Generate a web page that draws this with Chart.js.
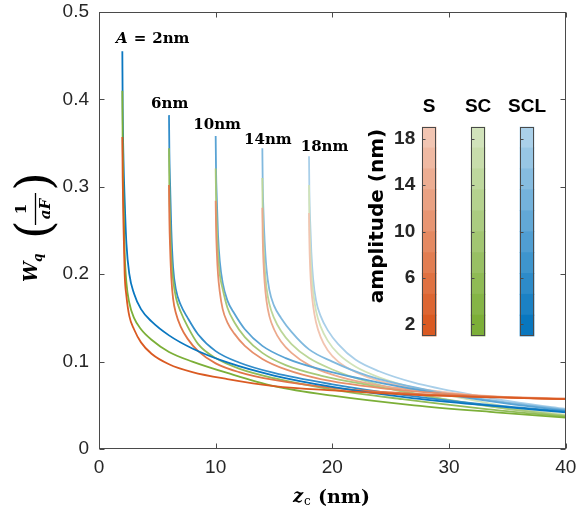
<!DOCTYPE html>
<html><head><meta charset="utf-8">
<script src="https://cdn.jsdelivr.net/npm/chart.js@4.4.0/dist/chart.umd.min.js"></script>
<style>
html,body{margin:0;padding:0;background:#fff;}
#wrap{position:relative;width:576px;height:512px;overflow:hidden;}
#wrap canvas{position:absolute;left:0;top:0;}
</style></head><body>
<div id="wrap"><canvas id="main" width="576" height="512"></canvas><canvas id="cbar" width="576" height="512"></canvas></div>
<script>
// ---------- data ----------
const amplitudes = [2, 6, 10, 14, 18];
const seriesNames = ['S', 'SC', 'SCL'];
const xTicks = [0, 10, 20, 30, 40];
const yTicks = [0, 0.1, 0.2, 0.3, 0.4, 0.5];
const cbTicks = [2, 6, 10, 14, 18];
const cbRange = [1, 19];
const cbLevels = 10;
const curveLabels = ['2nm', '6nm', '10nm', '14nm', '18nm'];

const zA2  = [2, 2.03, 2.1, 2.2, 2.35, 2.6, 3, 3.6, 4.5, 6, 8, 11, 15, 20, 27, 34, 40];
const S_A2   = [0.357, 0.31, 0.255, 0.2, 0.175, 0.152, 0.137, 0.122, 0.109, 0.097, 0.088, 0.080, 0.072, 0.067, 0.062, 0.059, 0.057];
const SC_A2  = [0.41, 0.35, 0.285, 0.225, 0.19, 0.167, 0.15, 0.137, 0.125, 0.111, 0.1, 0.087, 0.072, 0.061, 0.05, 0.042, 0.036];
const SCL_A2 = [0.455, 0.39, 0.33, 0.285, 0.235, 0.2, 0.178, 0.16, 0.146, 0.13, 0.115, 0.099, 0.084, 0.071, 0.058, 0.049, 0.042];

const zA6  = [6, 6.03, 6.1, 6.2, 6.35, 6.6, 7, 7.6, 8.5, 10, 12, 15, 20, 26, 33, 40];
const S_A6   = [0.302, 0.265, 0.228, 0.196, 0.172, 0.155, 0.14, 0.126, 0.112, 0.098, 0.088, 0.079, 0.070, 0.064, 0.060, 0.057];
const SC_A6  = [0.344, 0.3, 0.258, 0.22, 0.194, 0.173, 0.157, 0.14, 0.12, 0.104, 0.092, 0.081, 0.068, 0.057, 0.046, 0.037];
const SCL_A6 = [0.382, 0.34, 0.3, 0.25, 0.208, 0.182, 0.165, 0.15, 0.131, 0.112, 0.099, 0.087, 0.074, 0.062, 0.051, 0.043];

const zA10 = [10, 10.03, 10.1, 10.2, 10.35, 10.6, 11, 11.6, 12.5, 14, 16, 19, 24, 30, 35, 40];
const S_A10   = [0.284, 0.255, 0.225, 0.2, 0.18, 0.16, 0.145, 0.132, 0.118, 0.103, 0.091, 0.080, 0.070, 0.063, 0.059, 0.057];
const SC_A10  = [0.321, 0.29, 0.255, 0.225, 0.2, 0.183, 0.162, 0.145, 0.128, 0.11, 0.096, 0.084, 0.071, 0.056, 0.046, 0.038];
const SCL_A10 = [0.358, 0.32, 0.285, 0.245, 0.215, 0.19, 0.17, 0.155, 0.137, 0.118, 0.104, 0.091, 0.076, 0.062, 0.052, 0.044];

const zA14 = [14, 14.03, 14.1, 14.2, 14.35, 14.6, 15, 15.6, 16.5, 18, 20, 23, 28, 34, 40];
const S_A14   = [0.276, 0.243, 0.213, 0.19, 0.17, 0.152, 0.137, 0.123, 0.11, 0.096, 0.085, 0.075, 0.066, 0.060, 0.058];
const SC_A14  = [0.31, 0.27, 0.236, 0.208, 0.185, 0.166, 0.15, 0.135, 0.12, 0.104, 0.091, 0.077, 0.061, 0.048, 0.038];
const SCL_A14 = [0.344, 0.305, 0.27, 0.237, 0.207, 0.182, 0.164, 0.15, 0.134, 0.114, 0.1, 0.084, 0.068, 0.055, 0.045];

const zA18 = [18, 18.03, 18.1, 18.2, 18.35, 18.6, 19, 19.6, 20.5, 22, 24, 27, 32, 36, 40];
const S_A18   = [0.270, 0.238, 0.206, 0.183, 0.164, 0.145, 0.128, 0.113, 0.1, 0.088, 0.078, 0.07, 0.062, 0.059, 0.057];
const SC_A18  = [0.302, 0.265, 0.232, 0.203, 0.18, 0.158, 0.14, 0.124, 0.109, 0.094, 0.082, 0.07, 0.056, 0.046, 0.039];
const SCL_A18 = [0.335, 0.295, 0.26, 0.225, 0.195, 0.17, 0.152, 0.136, 0.12, 0.102, 0.089, 0.076, 0.062, 0.053, 0.046];

// ---------- assembly ----------
const zByA = {2: zA2, 6: zA6, 10: zA10, 14: zA14, 18: zA18};
const valsBy = {
  S:   {2: S_A2, 6: S_A6, 10: S_A10, 14: S_A14, 18: S_A18},
  SC:  {2: SC_A2, 6: SC_A6, 10: SC_A10, 14: SC_A14, 18: SC_A18},
  SCL: {2: SCL_A2, 6: SCL_A6, 10: SCL_A10, 14: SCL_A14, 18: SCL_A18}
};
const baseRGB = {S: [217, 83, 25], SC: [119, 172, 48], SCL: [0, 114, 189]};
const LIGHT = 0.7;
function shade(s, A) {
  const m = LIGHT * (A - cbRange[0]) / (cbRange[1] - cbRange[0]);
  const c = baseRGB[s].map(v => Math.round(v + (255 - v) * m));
  return `rgb(${c[0]},${c[1]},${c[2]})`;
}

const datasets = [];
amplitudes.forEach(A => {
  seriesNames.forEach(s => {
    const zs = zByA[A], ws = valsBy[s][A];
    datasets.push({
      label: s + ' A=' + A,
      data: zs.map((z, i) => ({x: z, y: ws[i]})),
      borderColor: shade(s, A),
      borderWidth: 1.8,
      pointRadius: 0,
      fill: false,
      cubicInterpolationMode: 'monotone'
    });
  });
});

// label anchors in data units (left / baseline)
const labelAnchors = [[1.46, 0.464], [4.46, 0.390], [8.08, 0.3656], [12.43, 0.3495], [17.29, 0.3415]];

function noPad(s) { s.paddingLeft = 0; s.paddingRight = 0; s.paddingTop = 0; s.paddingBottom = 0; }

const boxPlugin = {
  id: 'box',
  afterDatasetsDraw(chart) {
    const {ctx, chartArea: a, scales: {x, y}} = chart;
    ctx.save();
    ctx.strokeStyle = '#4a4a4a';
    ctx.lineWidth = 1;
    const l = Math.round(a.left) + 0.5, r = Math.round(a.right) - 0.5, t = Math.round(a.top) + 0.5, b = Math.round(a.bottom) - 0.5;
    ctx.strokeRect(l, t, r - l, b - t);
    const L = 5;
    ctx.beginPath();
    xTicks.forEach(v => {
      const px = Math.round(x.getPixelForValue(v)) + 0.5;
      ctx.moveTo(px, b); ctx.lineTo(px, b - L);
      ctx.moveTo(px, t); ctx.lineTo(px, t + L);
    });
    yTicks.forEach(v => {
      const py = Math.round(y.getPixelForValue(v)) + 0.5;
      ctx.moveTo(l, py); ctx.lineTo(l + L, py);
      ctx.moveTo(r, py); ctx.lineTo(r - L, py);
    });
    ctx.stroke();

    // curve annotations
    ctx.fillStyle = '#000';
    ctx.textBaseline = 'alphabetic';
    labelAnchors.forEach((p, i) => {
      let px = x.getPixelForValue(p[0]);
      const py = y.getPixelForValue(p[1]);
      if (i === 0) {
        ctx.font = 'bold italic 15px "DejaVu Serif"';
        ctx.fillText('A', px, py);
        px += ctx.measureText('A').width + 6;
        ctx.font = 'bold 15px "DejaVu Serif"';
        ctx.fillText('=', px, py);
        px += ctx.measureText('=').width + 6;
      }
      ctx.font = 'bold 15px "DejaVu Serif"';
      ctx.fillText(curveLabels[i], px, py);
    });

    // x-axis title
    ctx.font = 'bold italic 18px "DejaVu Serif"';
    ctx.fillText('z', 293, 501.5);
    ctx.font = '12px "DejaVu Serif"';
    ctx.fillText('c', 304, 505);
    ctx.font = 'bold 19px "DejaVu Serif"';
    ctx.fillText('(nm)', 318, 503);

    // y-axis title (rotated)
    ctx.translate(35, 240);
    ctx.rotate(-Math.PI / 2);
    ctx.font = 'bold italic 18px "DejaVu Serif"';
    ctx.fillText('W', -42, 1.5);
    ctx.font = 'bold italic 12px "DejaVu Serif"';
    ctx.fillText('q', -22, 7);
    function paren(ch, left) {
      ctx.font = '48px "DejaVu Serif"';
      const m = ctx.measureText(ch);
      const base = (m.actualBoundingBoxAscent - m.actualBoundingBoxDescent) / 2;
      ctx.fillText(ch, left, base);
    }
    paren('(', 1);
    paren(')', 49);
    ctx.font = 'bold 15px "DejaVu Serif"';
    ctx.textAlign = 'center';
    ctx.fillText('1', 31, -9);
    ctx.font = 'bold italic 15px "DejaVu Serif"';
    ctx.fillText('aF', 31, 15);
    ctx.beginPath();
    ctx.lineWidth = 1.3;
    ctx.strokeStyle = '#000';
    ctx.moveTo(15, 0.5); ctx.lineTo(47, 0.5);
    ctx.stroke();
    ctx.restore();
  }
};

new Chart(document.getElementById('main'), {
  type: 'line',
  data: {datasets},
  options: {
    responsive: false,
    animation: false,
    layout: {padding: {left: 0, right: 10.3, top: 12, bottom: 0}},
    plugins: {legend: {display: false}, tooltip: {enabled: false}},
    scales: {
      x: {
        type: 'linear', min: 0, max: 40,
        afterBuildTicks: s => { s.ticks = xTicks.map(v => ({value: v})); },
        afterFit: s => { s.height = 63; noPad(s); },
        grid: {display: false, drawTicks: false},
        border: {display: false},
        ticks: {color: '#262626', font: {family: '"Liberation Sans", Arial', size: 19}, padding: 7, maxRotation: 0}
      },
      y: {
        type: 'linear', min: 0, max: 0.5,
        afterBuildTicks: s => { s.ticks = yTicks.map(v => ({value: v})); },
        afterFit: s => { s.width = 99; noPad(s); },
        grid: {display: false, drawTicks: false},
        border: {display: false},
        ticks: {color: '#262626', font: {family: '"Liberation Sans", Arial', size: 19}, padding: 10,
          callback: v => (v === 0 ? '0' : v.toFixed(1))}
      }
    }
  },
  plugins: [boxPlugin]
});

// ---------- colour bars ----------
const cbStep = (cbRange[1] - cbRange[0]) / cbLevels;
const cbDatasets = [];
for (let k = 0; k < cbLevels; k++) {
  const lo = cbRange[0] + k * cbStep, hi = lo + cbStep;
  const mid = (lo + hi) / 2;
  cbDatasets.push({
    data: seriesNames.map(() => [lo, hi]),
    backgroundColor: seriesNames.map(s => shade(s, mid)),
    borderWidth: 0,
    grouped: false,
    barThickness: 14,
    clip: false
  });
}
const cbFrame = {
  id: 'cbFrame',
  afterDatasetsDraw(chart) {
    const {ctx, scales: {x, y}} = chart;
    ctx.save();
    ctx.strokeStyle = '#4a4a4a';
    ctx.lineWidth = 1;
    const t = y.getPixelForValue(cbRange[1]), b = y.getPixelForValue(cbRange[0]);
    seriesNames.forEach((s, i) => {
      const cx = x.getPixelForValue(i);
      const l = Math.round(cx - 7) + 0.5, r = Math.round(cx + 7) - 0.5;
      ctx.strokeRect(l, Math.round(t) + 0.5, r - l, Math.round(b - t) - 1);
      ctx.beginPath();
      cbTicks.forEach(v => {
        const py = Math.round(y.getPixelForValue(v)) + 0.5;
        ctx.moveTo(l, py); ctx.lineTo(l + 3, py);
      });
      ctx.stroke();
    });
    // colour bar axis title
    ctx.fillStyle = '#000';
    ctx.font = 'bold 20px "DejaVu Sans"';
    ctx.textAlign = 'center';
    ctx.textBaseline = 'middle';
    ctx.translate(378, 216);
    ctx.rotate(-Math.PI / 2);
    ctx.fillText('amplitude (nm)', 0, 0);
    ctx.restore();
  }
};
new Chart(document.getElementById('cbar'), {
  type: 'bar',
  data: {labels: seriesNames, datasets: cbDatasets},
  options: {
    responsive: false,
    animation: false,
    layout: {padding: {left: 369.2, right: 49, top: 97, bottom: 176}},
    plugins: {legend: {display: false}, tooltip: {enabled: false}},
    scales: {
      x: {
        type: 'category', position: 'top', offset: false,
        afterFit: s => { s.height = 30; noPad(s); },
        grid: {display: false, drawTicks: false},
        border: {display: false},
        ticks: {color: '#000', font: {family: '"Liberation Sans", Arial', size: 19, weight: 'bold'}, padding: 9, maxRotation: 0}
      },
      y: {
        type: 'linear', min: cbRange[0], max: cbRange[1],
        afterBuildTicks: s => { s.ticks = cbTicks.map(v => ({value: v})); },
        afterFit: s => { s.width = 60; noPad(s); },
        grid: {display: false, drawTicks: false},
        border: {display: false},
        ticks: {color: '#262626', font: {family: '"Liberation Sans", Arial', size: 19, weight: 'bold'}, padding: 14}
      }
    }
  },
  plugins: [cbFrame]
});
</script>
</body></html>
